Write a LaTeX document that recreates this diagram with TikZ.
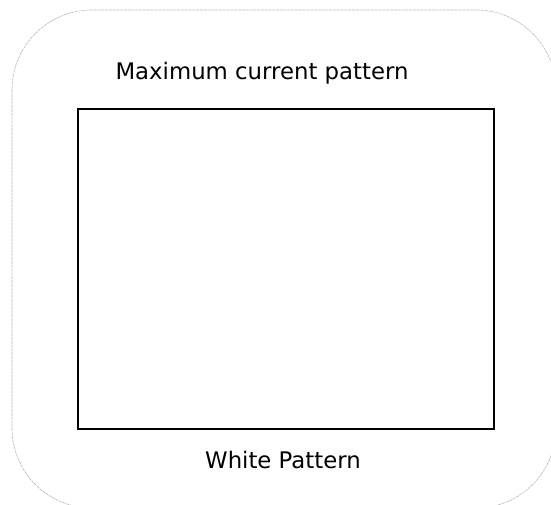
\documentclass[tikz,border=0pt]{standalone}
\usepackage{fontspec}
\setmainfont{DejaVu Sans}
\begin{document}
\begin{tikzpicture}[x=1pt,y=-1pt,
  outline/.style={draw=gray!55, line width=0.6pt, dash pattern=on 3pt off 0.8pt, rounded corners=80pt},
  frame/.style={draw=black, line width=1.5pt, minimum width=416pt, minimum height=320pt, inner sep=0pt},
  caption/.style={font=\fontsize{22.8}{27}\selectfont, inner sep=0pt, anchor=base}]
\useasboundingbox (0,0) rectangle (551,505);
\begin{scope}
\clip (0,0) rectangle (551,505);
\draw[outline] (12,10) rectangle (556,508);
\end{scope}
\node[frame] (box) at (286,269) {};
\node[caption] (top) at (262,79.5) {Maximum current pattern};
\node[caption] (bottom) at (283,468.5) {White Pattern};
\end{tikzpicture}
\end{document}
